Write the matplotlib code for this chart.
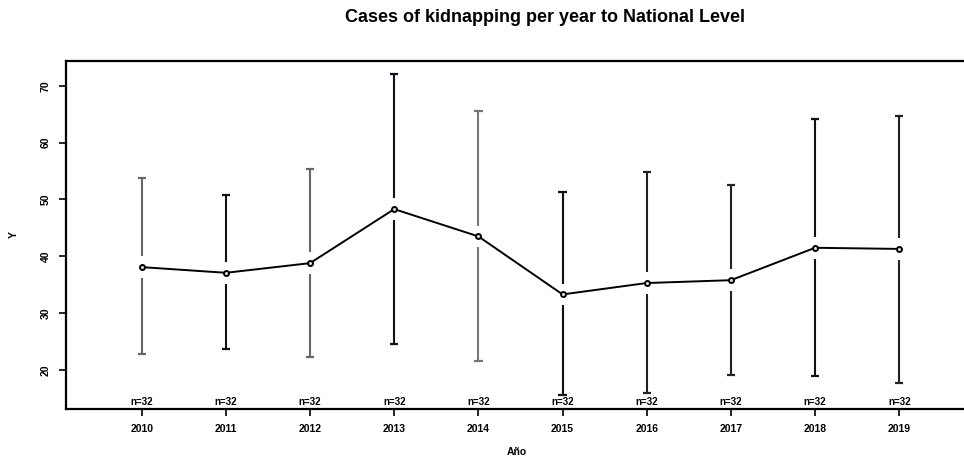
import matplotlib.pyplot as plt
import numpy as np

plt.rcParams['font.family'] = ['Liberation Sans', 'DejaVu Sans']

# data
years = [2010, 2011, 2012, 2013, 2014, 2015, 2016, 2017, 2018, 2019]
means = [38.1, 37.1, 38.8, 48.3, 43.5, 33.3, 35.3, 35.8, 41.5, 41.3]
upper = [53.8, 50.8, 55.3, 72.1, 65.5, 51.3, 54.8, 52.5, 64.1, 64.7]
lower = [22.8, 23.7, 22.3, 24.6, 21.6, 15.6, 15.9, 19.2, 18.9, 17.8]
counts = ['n=32'] * 10
bar_colors = ['#666666', '#111111', '#666666', '#111122', '#777777',
              '#111111', '#222222', '#222222', '#111111', '#222222']

fig = plt.figure(figsize=(9.64, 4.58), dpi=100, facecolor='w')
ax = fig.add_axes([66 / 964, 1 - 408.7 / 458, 1 - 66 / 964, (408.7 - 60.7) / 458])

gap = 1.9
cap = 0.05
for x, m, lo, hi, c in zip(years, means, lower, upper, bar_colors):
    ax.vlines(x, lo, m - gap, color=c, lw=1.5)
    ax.vlines(x, m + gap, hi, color=c, lw=1.5)
    ax.hlines([lo, hi], x - cap, x + cap, color=c, lw=1.6)

ax.plot(years, means, color='black', lw=1.4, marker='o', ms=3.6,
        markerfacecolor='#dddddd', markeredgecolor='black', markeredgewidth=1.4)

for x, t in zip(years, counts):
    ax.text(x, 13.5, t, ha='center', va='bottom', fontsize=7, fontweight='bold')

ax.set_xlim(2009.1, 2019.77)
ax.set_ylim(13.2, 74.4)
ax.set_xticks(years)
ax.set_xticklabels([str(y) for y in years], fontsize=7.5, fontweight='bold')
ax.set_yticks([20, 30, 40, 50, 60, 70])
ax.set_yticklabels(['20', '30', '40', '50', '60', '70'], fontsize=7.5,
                   fontweight='bold', rotation=90, va='center')
ax.tick_params(axis='both', direction='out', length=5, width=1.2, pad=6)
ax.spines['right'].set_visible(False)
for s in ['left', 'top', 'bottom']:
    ax.spines[s].set_linewidth(1.6)

fig.text(14 / 964, 1 - 235 / 458, 'Y', rotation=90, ha='center', va='center',
         fontsize=7.5, fontweight='bold')
fig.text(517 / 964, 1 - 452 / 458, 'Año', ha='center', va='center',
         fontsize=7.5, fontweight='bold')
fig.text(545 / 964, 1 - 18 / 458, 'Cases of kidnapping per year to National Level',
         ha='center', va='center', fontsize=13, fontweight='bold')

fig.savefig('out.png', dpi=100)
